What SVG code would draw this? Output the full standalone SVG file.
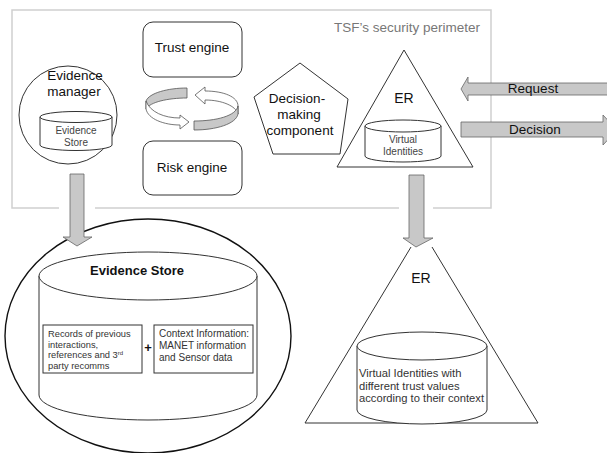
<svg xmlns="http://www.w3.org/2000/svg" width="607" height="453" viewBox="0 0 607 453">
<style>
text{font-family:"Liberation Sans",Arial,sans-serif;fill:#111}
.ln{fill:#fff;stroke:#333;stroke-width:1}
.arr{fill:#c8c8c8;stroke:#666;stroke-width:0.8}
.small{font-size:10px;fill:#444}
.mid{text-anchor:middle}
</style>
<rect width="607" height="453" fill="#fff"/>
<g id="perimeter">
<path d="M433,208 H491 V10 H12 V208 H59 M95,208 H399" fill="none" stroke="#d0d0d0" stroke-width="1.5"/>
<text x="480" y="32" text-anchor="end" font-size="13.5" style="fill:#777">TSF’s security perimeter</text>
</g>
<g id="evidence-manager">
<circle cx="68" cy="115" r="49" class="ln"/>
<text x="75" y="80" class="mid" font-size="13.5">Evidence</text>
<text x="74" y="96" class="mid" font-size="13.5">manager</text>
<path class="ln" d="M40,117 V145 A36,5.5 0 0 0 112,145 V117"/>
<ellipse cx="76" cy="117" rx="36" ry="5.5" class="ln"/>
<text x="76" y="134" class="mid small">Evidence</text>
<text x="76" y="146" class="mid small">Store</text>
</g>
<g id="trust-engine">
<rect x="143" y="22" width="99" height="55" rx="10" class="ln"/>
<text x="192" y="52" class="mid" font-size="13.5">Trust engine</text>
</g>
<g id="risk-engine">
<rect x="143" y="141" width="99" height="54" rx="10" class="ln"/>
<text x="192" y="172" class="mid" font-size="13.5">Risk engine</text>
</g>
<g id="cycle" stroke="#555" stroke-width="0.8">
<path fill="#c8c8c8" d="M187,88 C168,88 149,93 146,101 L146,109 C150,102 168,98 187,98 Z"/>
<path fill="#fff" d="M146,101 L146,109 C148,119 164,125 180,125 L180,129 L189,122 L180,115 L180,118 C164,118 150,112 146,101 Z"/>
<path fill="#fff" d="M195,95 L205,87 L205,91 C224,91 238,97 238,106 L238,114 C236,106 222,100 205,100 L205,104 Z"/>
<path fill="#c8c8c8" d="M238,106 L238,114 C236,124 216,130 194,130 L194,121 C216,121 236,116 238,106 Z"/>
</g>
<g id="decision-making">
<polygon points="300,63 348,99 340,154 273,154 254,97" class="ln"/>
<text x="297" y="103" class="mid" font-size="13.5">Decision-</text>
<text x="299" y="119" class="mid" font-size="13.5">making</text>
<text x="300" y="135" class="mid" font-size="13.5">component</text>
</g>
<g id="er-top">
<polygon points="404,50 473,167 337,167" class="ln"/>
<text x="404" y="103" class="mid" font-size="14">ER</text>
<path class="ln" d="M365,126 V156 A38,6 0 0 0 441,156 V126"/>
<ellipse cx="403" cy="126" rx="38" ry="6" class="ln"/>
<text x="403" y="143" class="mid small">Virtual</text>
<text x="403" y="155" class="mid small">Identities</text>
</g>
<g id="evidence-store">
<ellipse cx="148" cy="336" rx="143" ry="117" fill="#fff" stroke="#111" stroke-width="1.4"/>
<path class="ln" d="M39,276 V395 A109,25 0 0 0 257,395 V276"/>
<ellipse cx="148" cy="276" rx="109" ry="24" class="ln"/>
<text x="137" y="275" class="mid" font-size="13" font-weight="bold">Evidence Store</text>
<rect x="43" y="325" width="99" height="48" class="ln"/>
<text font-size="9.3" style="fill:#333">
<tspan x="48" y="337">Records of previous</tspan>
<tspan x="48" y="347.5">interactions,</tspan>
<tspan x="48" y="358">references and 3<tspan font-size="6" dy="-3">rd</tspan></tspan>
<tspan x="48" y="369">party recomms</tspan>
</text>
<text x="148" y="352" class="mid" font-size="13" font-weight="bold">+</text>
<rect x="154" y="325" width="99" height="48" class="ln"/>
<text font-size="10" style="fill:#333">
<tspan x="159" y="337">Context Information:</tspan>
<tspan x="159" y="349">MANET information</tspan>
<tspan x="159" y="361">and Sensor data</tspan>
</text>
</g>
<g id="er-bottom">
<path d="M411,247 L305,423 H538 L432,247" fill="#fff" stroke="#333" stroke-width="1"/>
<text x="421" y="283" class="mid" font-size="14">ER</text>
<path class="ln" d="M357,346 V410 A65,14 0 0 0 487,410 V346"/>
<ellipse cx="422" cy="346" rx="65" ry="14" class="ln"/>
<text font-size="11.2" style="fill:#333">
<tspan x="359" y="377">Virtual Identities with</tspan>
<tspan x="359" y="389.5">different trust values</tspan>
<tspan x="359" y="402">according to their context</tspan>
</text>
</g>
<g id="connectors">
<path class="arr" d="M70,174 H84 V237 H92 L77,246 L63,237 H70 Z"/>
<path class="arr" d="M409,175 H424 V238 H433 L416,247 L403,238 H409 Z"/>
<path class="arr" d="M610,83 H468 V77 L461,89 L468,101 V95 H610 Z"/>
<path class="arr" d="M461,122 H603 V115 L617,130 L603,145 V137 H461 Z"/>
<text x="533" y="93" class="mid" font-size="13.5">Request</text>
<text x="535" y="134" class="mid" font-size="13.5">Decision</text>
</g>
</svg>
